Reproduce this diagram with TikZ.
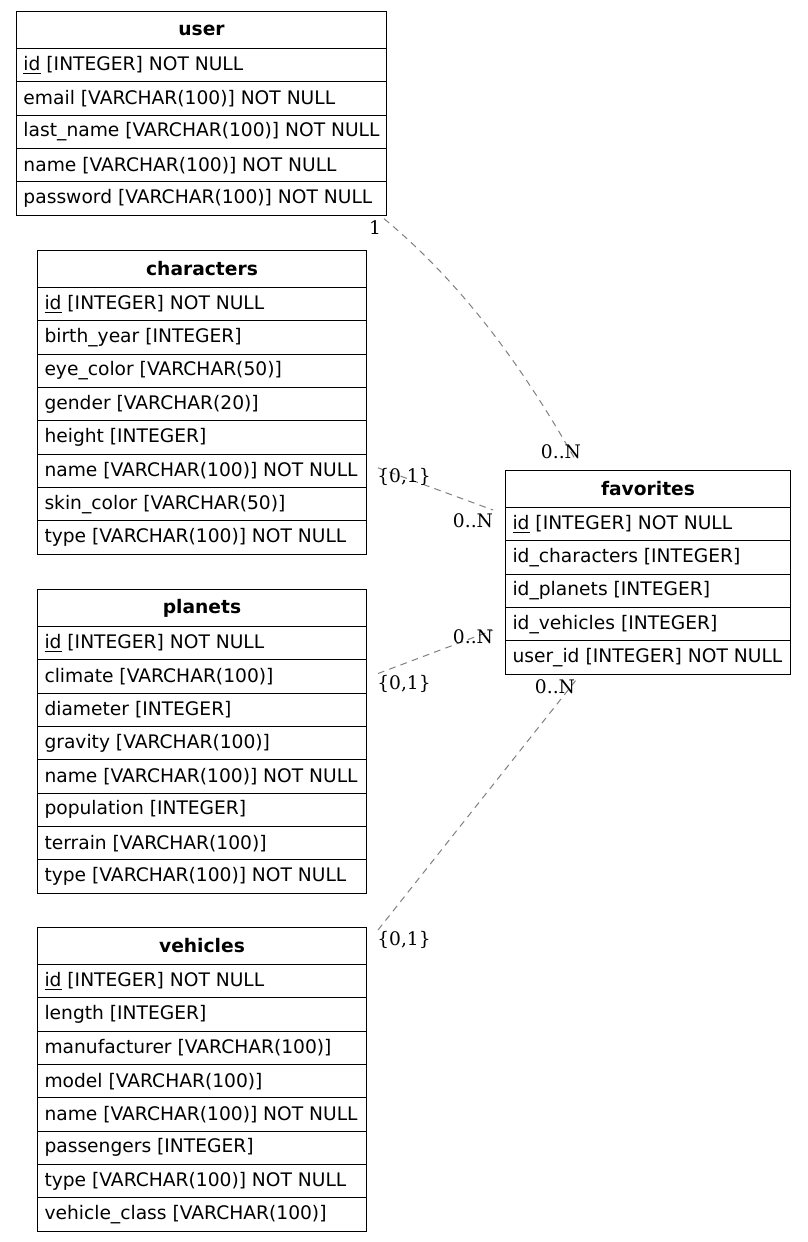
\documentclass[tikz,border=0pt]{standalone}
\usepackage{fontspec}
\newfontfamily\tbl{DejaVu Sans}
\newfontfamily\lblf{DejaVu Serif}
\usetikzlibrary{calc}
\hfuzz=20pt
\tikzset{
 fld/.style={draw, line width=0.75pt, anchor=north west, minimum height=25pt, inner xsep=5.25pt, inner ysep=0pt, font=\tbl\fontsize{14}{16}\selectfont,
   execute at begin node={\hbox to #1\bgroup}, execute at end node={\hfil\egroup}},
 hdr/.style={draw, line width=0.75pt, anchor=north west, minimum height=27.75pt, inner xsep=5.25pt, inner ysep=0pt, font=\tbl\bfseries\fontsize{14}{16}\selectfont,
   execute at begin node={\hbox to #1\bgroup\hfil}, execute at end node={\hfil\egroup}},
 rel/.style={draw=black!50, dash pattern=on 5pt off 4pt, line width=0.75pt},
 card/.style={font=\lblf\fontsize{14}{16}\selectfont, inner sep=0pt}
}
\begin{document}
\begin{tikzpicture}[x=0.75pt, y=-0.75pt]
\fill[white] (0,0) rectangle (807,1242);
\useasboundingbox (0,0) rectangle (807,1242);
% user
\node[hdr=267pt] (uh) at (16,11) {user};
\foreach \t [count=\i] in {{\underline{id} [INTEGER] NOT NULL},{email [VARCHAR(100)] NOT NULL},{last\_name [VARCHAR(100)] NOT NULL},{name [VARCHAR(100)] NOT NULL},{password [VARCHAR(100)] NOT NULL}}
  \node[fld=267pt] (u\i) at (16,{48+(\i-1)*33.333}) {\t};
% characters
\node[hdr=236.25pt] (ch) at (37,250) {characters};
\foreach \t [count=\i] in {{\underline{id} [INTEGER] NOT NULL},{birth\_year [INTEGER]},{eye\_color [VARCHAR(50)]},{gender [VARCHAR(20)]},{height [INTEGER]},{name [VARCHAR(100)] NOT NULL},{skin\_color [VARCHAR(50)]},{type [VARCHAR(100)] NOT NULL}}
  \node[fld=236.25pt] (c\i) at (37,{287+(\i-1)*33.333}) {\t};
% planets
\node[hdr=236.25pt] (ph) at (37,589) {planets};
\foreach \t [count=\i] in {{\underline{id} [INTEGER] NOT NULL},{climate [VARCHAR(100)]},{diameter [INTEGER]},{gravity [VARCHAR(100)]},{name [VARCHAR(100)] NOT NULL},{population [INTEGER]},{terrain [VARCHAR(100)]},{type [VARCHAR(100)] NOT NULL}}
  \node[fld=236.25pt] (p\i) at (37,{626+(\i-1)*33.333}) {\t};
% vehicles
\node[hdr=236.25pt] (vh) at (37,927) {vehicles};
\foreach \t [count=\i] in {{\underline{id} [INTEGER] NOT NULL},{length [INTEGER]},{manufacturer [VARCHAR(100)]},{model [VARCHAR(100)]},{name [VARCHAR(100)] NOT NULL},{passengers [INTEGER]},{type [VARCHAR(100)] NOT NULL},{vehicle\_class [VARCHAR(100)]}}
  \node[fld=236.25pt] (v\i) at (37,{964+(\i-1)*33.333}) {\t};
% favorites
\node[hdr=203.25pt] (fh) at (505,470) {favorites};
\foreach \t [count=\i] in {{\underline{id} [INTEGER] NOT NULL},{id\_characters [INTEGER]},{id\_planets [INTEGER]},{id\_vehicles [INTEGER]},{user\_id [INTEGER] NOT NULL}}
  \node[fld=203.25pt] (f\i) at (505,{507+(\i-1)*33.333}) {\t};
% relations
\draw[rel] ([shift={(-3,3)}]u5.south east) .. controls (470,290) and (530,380) .. ([shift={(-72.5,-10)}]fh.north);
\draw[rel] ([shift={(11,-3)}]c6.east) -- ([shift={(-12,3)}]f1.north west);
\draw[rel] ([shift={(11,-3)}]p2.east) -- ([shift={(-12,6)}]f4.west);
\draw[rel] ([shift={(11,3)}]vh.north east) -- ([shift={(-72.5,6)}]f5.south);
% cardinalities
\node[card] (l1) at (375,228) {1};
\node[card] (l2) at (561,452) {0..N};
\node[card] (l3) at (404,477) {\{0,1\}};
\node[card] (l4) at (473,521) {0..N};
\node[card] (l5) at (473,637) {0..N};
\node[card] (l6) at (404,684) {\{0,1\}};
\node[card] (l7) at (555,687) {0..N};
\node[card] (l8) at (404,940) {\{0,1\}};
\end{tikzpicture}
\end{document}
